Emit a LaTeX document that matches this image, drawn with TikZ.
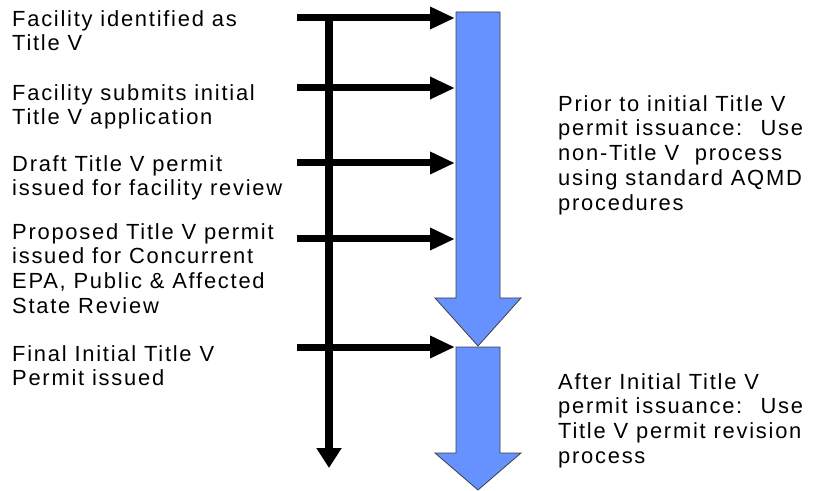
\documentclass[tikz,border=0pt]{standalone}
\usepackage{fontspec}
\setmainfont[LetterSpace=8]{Liberation Sans}
\usetikzlibrary{arrows.meta}
\definecolor{phaseblue}{RGB}{102,146,255}

\begin{document}
\begin{tikzpicture}[x=1bp, y=-1bp]
    \useasboundingbox (0,0) rectangle (837,491);
    \tikzset{StepText/.style={anchor=north west, inner sep=0pt, align=left,
        font=\fontsize{22}{25}\selectfont}}
    \tikzset{StepArrow/.style={line width=7bp, -{Triangle[length=25bp, width=21bp]}}}
    \tikzset{TimeArrow/.style={line width=8bp, -{Triangle[length=20bp, width=24bp]}}}
    \tikzset{PhaseArrow/.style={fill=phaseblue, draw=black!75, line width=0.8bp}}

    % the two phases
    \draw[PhaseArrow] (456,12) -- (500,12) -- (500,298) -- (521,298) -- (478,346)
        -- (435,298) -- (456,298) -- cycle;
    \draw[PhaseArrow] (456,347) -- (500,347) -- (500,453) -- (521,453) -- (478,490)
        -- (435,453) -- (456,453) -- cycle;

    % steps
    \node[StepText] (identified) at (12,10) {Facility identified as\\Title V};
    \node[StepText] (submits) at (12,84) {Facility submits initial\\Title V application};
    \node[StepText] (draft) at (12,155) {Draft Title V permit\\issued for facility review};
    \node[StepText] (proposed) at (12,223) {Proposed Title V permit\\issued for Concurrent\\EPA, Public \& Affected\\State Review};
    \node[StepText] (final) at (12,345) {Final Initial Title V\\Permit issued};

    \node[StepText] (prior) at (558,95) {Prior to initial Title V\\permit issuance:~ Use\\non-Title V~ process\\using standard AQMD\\procedures};
    \node[StepText] (after) at (558,373) {After Initial Title V\\permit issuance:~ Use\\Title V permit revision\\process};

    \coordinate (identifiedA) at (297,18);
    \coordinate (identifiedB) at (455,18);
    \coordinate (submitsA) at (297,88);
    \coordinate (submitsB) at (455,88);
    \coordinate (draftA) at (297,163);
    \coordinate (draftB) at (455,163);
    \coordinate (proposedA) at (297,239);
    \coordinate (proposedB) at (455,239);
    \coordinate (finalA) at (297,347);
    \coordinate (finalB) at (455,347);

    \draw[StepArrow] (identifiedA) -- (identifiedB);
    \draw[StepArrow] (submitsA) -- (submitsB);
    \draw[StepArrow] (draftA) -- (draftB);
    \draw[StepArrow] (proposedA) -- (proposedB);
    \draw[StepArrow] (finalA) -- (finalB);

    % time line
    \coordinate (start) at (329,18);
    \coordinate (end) at (329,468);
    \draw[TimeArrow] (start) -- (end);
\end{tikzpicture}
\end{document}
